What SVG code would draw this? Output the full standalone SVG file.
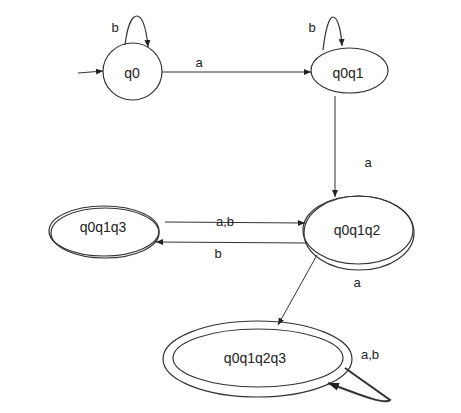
<svg xmlns="http://www.w3.org/2000/svg" width="461" height="413" viewBox="0 0 461 413">
<style>
.n{fill:none;stroke:#333;stroke-width:1.2}
.e{fill:none;stroke:#333;stroke-width:1}
.t{font-family:"Liberation Sans",Arial,sans-serif;font-size:14px;fill:#222;text-anchor:middle;dominant-baseline:central}
.l{font-family:"Liberation Sans",Arial,sans-serif;font-size:13px;fill:#222;text-anchor:middle;dominant-baseline:central}
</style>
<defs>
<marker id="ah" markerWidth="8" markerHeight="8" refX="7" refY="4" orient="auto" markerUnits="userSpaceOnUse">
<path d="M0,1 L7,4 L0,7 Z" fill="#222"/>
</marker>
<marker id="ahb" markerWidth="12" markerHeight="10" refX="11" refY="5" orient="auto" markerUnits="userSpaceOnUse">
<path d="M0,1 L11,5 L0,9 Z" fill="#222"/>
</marker>
</defs>
<rect width="461" height="413" fill="#fff"/>
<g id="q0">
<ellipse class="n" cx="132.5" cy="71.5" rx="29.5" ry="28.5"/>
<text class="t" x="132" y="73">q0</text>
</g>
<g id="q0q1">
<ellipse class="n" cx="349.5" cy="70.5" rx="38.5" ry="22.5"/>
<text class="t" x="348" y="73">q0q1</text>
</g>
<g id="q0q1q3">
<ellipse class="n" cx="104" cy="231" rx="55" ry="25"/>
<ellipse class="n" cx="105" cy="233" rx="54" ry="25"/>
<text class="t" x="103" y="227">q0q1q3</text>
</g>
<g id="q0q1q2">
<ellipse class="n" cx="358" cy="230" rx="55" ry="34"/>
<ellipse class="n" cx="359" cy="233" rx="55" ry="37"/>
<text class="t" x="357" y="230">q0q1q2</text>
</g>
<g id="q0q1q2q3">
<ellipse class="n" cx="257.5" cy="359" rx="94.5" ry="38"/>
<ellipse class="n" cx="258" cy="358" rx="85" ry="29"/>
<text class="t" x="255" y="358">q0q1q2q3</text>
</g>
<g id="connectors">
<line class="e" x1="78" y1="73" x2="103" y2="71" marker-end="url(#ah)"/>
<path class="n" d="M125,45 C128,20 134,16 137,16 C141,16 146,24 148,47" marker-end="url(#ah)"/>
<path class="n" d="M323,50 C326,25 330,17 333,17 C337,17 341,28 342,46" marker-end="url(#ah)"/>
<line class="e" x1="162" y1="72" x2="311" y2="72" marker-end="url(#ah)"/>
<line class="e" x1="335" y1="96" x2="335" y2="197" marker-end="url(#ah)"/>
<line class="e" x1="165" y1="222" x2="305" y2="223" marker-end="url(#ah)"/>
<line class="e" x1="307" y1="243" x2="156" y2="242" marker-end="url(#ah)"/>
<line class="e" x1="317" y1="255" x2="278" y2="325" marker-end="url(#ah)"/>
<path d="M345,368 L390,400 C385,405 360,395 328,383" fill="none" stroke="#333" stroke-width="2" marker-end="url(#ahb)"/>
<text class="l" x="115" y="27">b</text>
<text class="l" x="312" y="27">b</text>
<text class="l" x="199" y="62">a</text>
<text class="l" x="368" y="162">a</text>
<text class="l" x="225" y="221">a,b</text>
<text class="l" x="218" y="253">b</text>
<text class="l" x="357" y="282">a</text>
<text class="l" x="370" y="354">a,b</text>
</g>
</svg>
